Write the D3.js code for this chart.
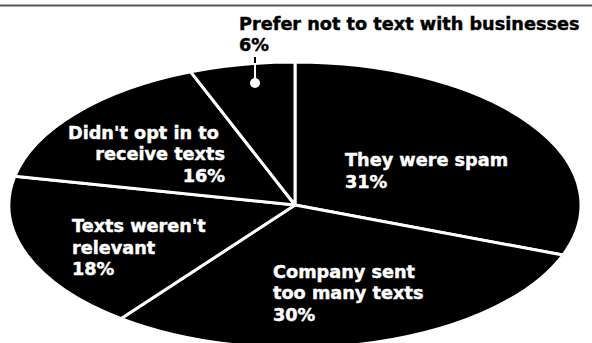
<!DOCTYPE html>
<html>
<head>
<meta charset="utf-8">
<script src="https://cdn.jsdelivr.net/npm/d3@7"></script>
<style>
  html, body { margin: 0; padding: 0; background: #fff; }
  svg { display: block; }
  .lbl { font-family: "DejaVu Sans", sans-serif; font-weight: 700; font-size: 17.7px; white-space: pre; stroke-width: 0.45px; }
</style>
</head>
<body>
<svg id="chart" width="592" height="343"></svg>
<script>
// Reasons people gave for unsubscribing from business texts (share of respondents)
const categories = [
  "They were spam",
  "Company sent too many texts",
  "Texts weren't relevant",
  "Didn't opt in to receive texts",
  "Prefer not to text with businesses"
];
const values = [31, 30, 18, 16, 6];
const labelLines = [
  ["They were spam"],
  ["Company sent", "too many texts"],
  ["Texts weren't", "relevant"],
  ["Didn't opt in to ", "receive texts"],
  ["Prefer not to text with businesses"]
];

const W = 592, H = 343;
const cx = 295, cy = 205, rx = 286, ry = 143;

const svg = d3.select("#chart");

// thin rule across the top
svg.append("line")
  .attr("x1", 0).attr("x2", W)
  .attr("y1", 5.5).attr("y2", 5.5)
  .attr("stroke", "#555").attr("stroke-width", 1.8);

const data = categories.map((c, i) => ({ category: c, value: values[i], lines: labelLines[i] }));

const pie = d3.pie().sort(null).value(d => d.value);
const arcs = pie(data);
const arc = d3.arc().innerRadius(0).outerRadius(rx);

// the pie is drawn as a circle and squashed vertically into an ellipse
const g = svg.append("g")
  .attr("transform", `translate(${cx},${cy}) scale(1,${ry / rx})`);

g.selectAll("path")
  .data(arcs)
  .join("path")
  .attr("d", arc)
  .attr("fill", "#000")
  .attr("stroke", "#fff")
  .attr("stroke-width", 3)
  .attr("stroke-linejoin", "round")
  .attr("vector-effect", "non-scaling-stroke");

// label placement: [x, first baseline, anchor, fill]
const placement = [
  [345, 166, "start", "#fff"],
  [273, 277.5, "start", "#fff"],
  [72, 232, "start", "#fff"],
  [225, 138.5, "end", "#fff"],
  [239, 29.5, "start", "#000"]
];
const lineH = 21.6;

arcs.forEach((a, i) => {
  const [x, y, anchor, fill] = placement[i];
  const t = svg.append("text")
    .attr("class", "lbl")
    .attr("text-anchor", anchor)
    .attr("fill", fill)
    .attr("stroke", fill)
    .attr("x", x).attr("y", y);
  const lines = a.data.lines.concat([a.data.value + "%"]);
  lines.forEach((ln, j) => {
    t.append("tspan")
      .attr("x", x)
      .attr("y", y + j * lineH)
      .text(ln);
  });
});

// leader from the small-slice label down to a dot inside its slice
const dotX = 255;
svg.append("line")
  .attr("x1", dotX).attr("x2", dotX)
  .attr("y1", 57).attr("y2", 82)
  .attr("stroke", "#000").attr("stroke-width", 2);
svg.append("line")
  .attr("x1", dotX).attr("x2", dotX)
  .attr("y1", 63).attr("y2", 82)
  .attr("stroke", "#fff").attr("stroke-width", 2);
svg.append("circle")
  .attr("cx", dotX).attr("cy", 83).attr("r", 5)
  .attr("fill", "#fff");
</script>
</body>
</html>
